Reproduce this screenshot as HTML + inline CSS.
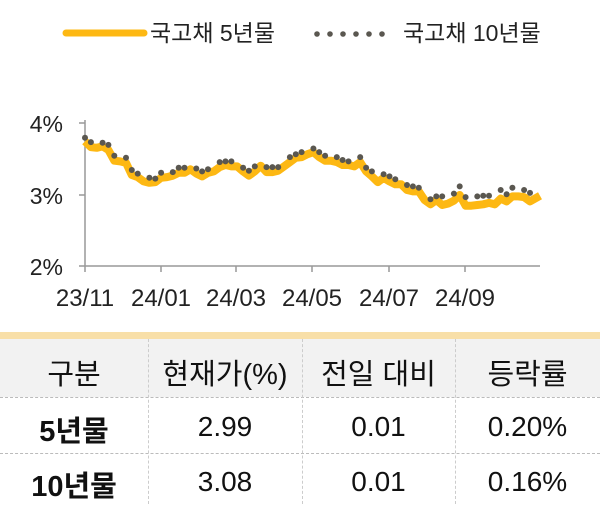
<!DOCTYPE html>
<html><head><meta charset="utf-8"><style>
body{margin:0;width:600px;height:504px;background:#fff;overflow:hidden;font-family:"Liberation Sans","Noto Sans CJK KR",sans-serif;position:relative}
.t{position:absolute;color:#111}
</style></head><body>
<svg id="s" width="600" height="330" style="position:absolute;left:0;top:0">
<line x1="66" y1="33" x2="144" y2="33" stroke="#fdb813" stroke-width="7" stroke-linecap="round"/>
<text x="150" y="41" font-size="23" fill="#222" font-family="Liberation Sans, Noto Sans CJK KR, sans-serif">국고채 5년물</text>
<g fill="#5a5750"><circle cx="317" cy="34" r="2.8"/><circle cx="330" cy="34" r="2.8"/><circle cx="343" cy="34" r="2.8"/><circle cx="356" cy="34" r="2.8"/><circle cx="369" cy="34" r="2.8"/><circle cx="382" cy="34" r="2.8"/></g>
<text x="403" y="41" font-size="23" fill="#222" font-family="Liberation Sans, Noto Sans CJK KR, sans-serif">국고채 10년물</text>
<g stroke="#999" stroke-width="1.5">
<line x1="85" y1="120" x2="85" y2="272"/><line x1="85" y1="266" x2="540" y2="266"/>
<line x1="79" y1="123" x2="85" y2="123"/><line x1="79" y1="195" x2="85" y2="195"/><line x1="79" y1="266" x2="85" y2="266"/>
<line x1="161" y1="266" x2="161" y2="272"/><line x1="236" y1="266" x2="236" y2="272"/><line x1="312" y1="266" x2="312" y2="272"/><line x1="389" y1="266" x2="389" y2="272"/><line x1="465" y1="266" x2="465" y2="272"/>
</g>
<g font-size="23" fill="#222" font-family="Liberation Sans, sans-serif" text-anchor="end">
<text x="63" y="132">4%</text><text x="63" y="204">3%</text><text x="63" y="275">2%</text></g>
<g font-size="24" fill="#222" font-family="Liberation Sans, sans-serif" text-anchor="middle">
<text x="85" y="306">23/11</text><text x="161" y="306">24/01</text><text x="236" y="306">24/03</text><text x="312" y="306">24/05</text><text x="389" y="306">24/07</text><text x="465" y="306">24/09</text></g>
<path id="p5" fill="none" stroke="#fdb813" stroke-width="8" stroke-linejoin="round"/>
<g id="dots" fill="#5a5750"></g>
</svg>
<div style="position:absolute;left:0;top:332px;width:600px;height:7px;background:#f8dfa8"></div>
<div style="position:absolute;left:0;top:339px;width:600px;height:58px;background:#f2f2f2"></div>
<div style="position:absolute;left:0;top:397px;width:600px;border-top:1px dashed #bbb"></div>
<div style="position:absolute;left:0;top:453px;width:600px;border-top:1px dashed #bbb"></div>
<div style="position:absolute;left:148px;top:339px;height:165px;border-left:1px dashed #ccc"></div>
<div style="position:absolute;left:302px;top:339px;height:165px;border-left:1px dashed #ccc"></div>
<div style="position:absolute;left:455px;top:339px;height:165px;border-left:1px dashed #ccc"></div>
<div class="t" style="left:0;width:148px;top:351px;text-align:center;font-size:29px">구분</div>
<div class="t" style="left:148px;width:154px;top:351px;text-align:center;font-size:29px">현재가(%)</div>
<div class="t" style="left:302px;width:153px;top:351px;text-align:center;font-size:29px">전일 대비</div>
<div class="t" style="left:455px;width:145px;top:351px;text-align:center;font-size:29px">등락률</div>
<div class="t" style="left:0;width:148px;top:408px;text-align:center;font-size:29px;font-weight:bold">5년물</div>
<div class="t" style="left:148px;width:154px;top:411px;text-align:center;font-size:28px">2.99</div>
<div class="t" style="left:302px;width:153px;top:411px;text-align:center;font-size:28px">0.01</div>
<div class="t" style="left:455px;width:145px;top:411px;text-align:center;font-size:28px">0.20%</div>
<div class="t" style="left:0;width:148px;top:463px;text-align:center;font-size:29px;font-weight:bold">10년물</div>
<div class="t" style="left:148px;width:154px;top:466px;text-align:center;font-size:28px">3.08</div>
<div class="t" style="left:302px;width:153px;top:466px;text-align:center;font-size:28px">0.01</div>
<div class="t" style="left:455px;width:145px;top:466px;text-align:center;font-size:28px">0.16%</div>
<script>
var v=[3.80,3.74,3.73,3.73,3.70,3.55,3.52,3.52,3.35,3.30,3.26,3.24,3.23,3.31,3.32,3.32,3.38,3.38,3.41,3.37,3.33,3.36,3.40,3.46,3.47,3.47,3.47,3.38,3.34,3.40,3.46,3.39,3.39,3.39,3.47,3.53,3.57,3.60,3.64,3.65,3.60,3.55,3.53,3.53,3.49,3.47,3.47,3.53,3.38,3.33,3.25,3.29,3.26,3.22,3.20,3.14,3.12,3.10,3.00,2.94,2.98,2.98,3.00,3.02,3.12,2.97,2.95,2.98,2.99,2.99,2.99,3.07,3.01,3.10,3.10,3.07,3.03];
function Y(p){return 195-(p-3)*71.5}
var n=v.length,x0=85,x1=530,d="",g="";
for(var i=0;i<n;i++){var x=x0+(x1-x0)*i/(n-1);if(i%4!=2)g+='<circle cx="'+x.toFixed(1)+'" cy="'+Y(v[i]).toFixed(1)+'" r="3"/>';
var f=v[i]-0.07-(i>60?0.05:0)+(i%3==0?0.02:0);d+=(i?"L":"M")+x.toFixed(1)+","+Y(f).toFixed(1);}
d+="L540,"+Y(2.99);
document.getElementById("p5").setAttribute("d",d);
document.getElementById("dots").innerHTML=g;
</script>
</body></html>
